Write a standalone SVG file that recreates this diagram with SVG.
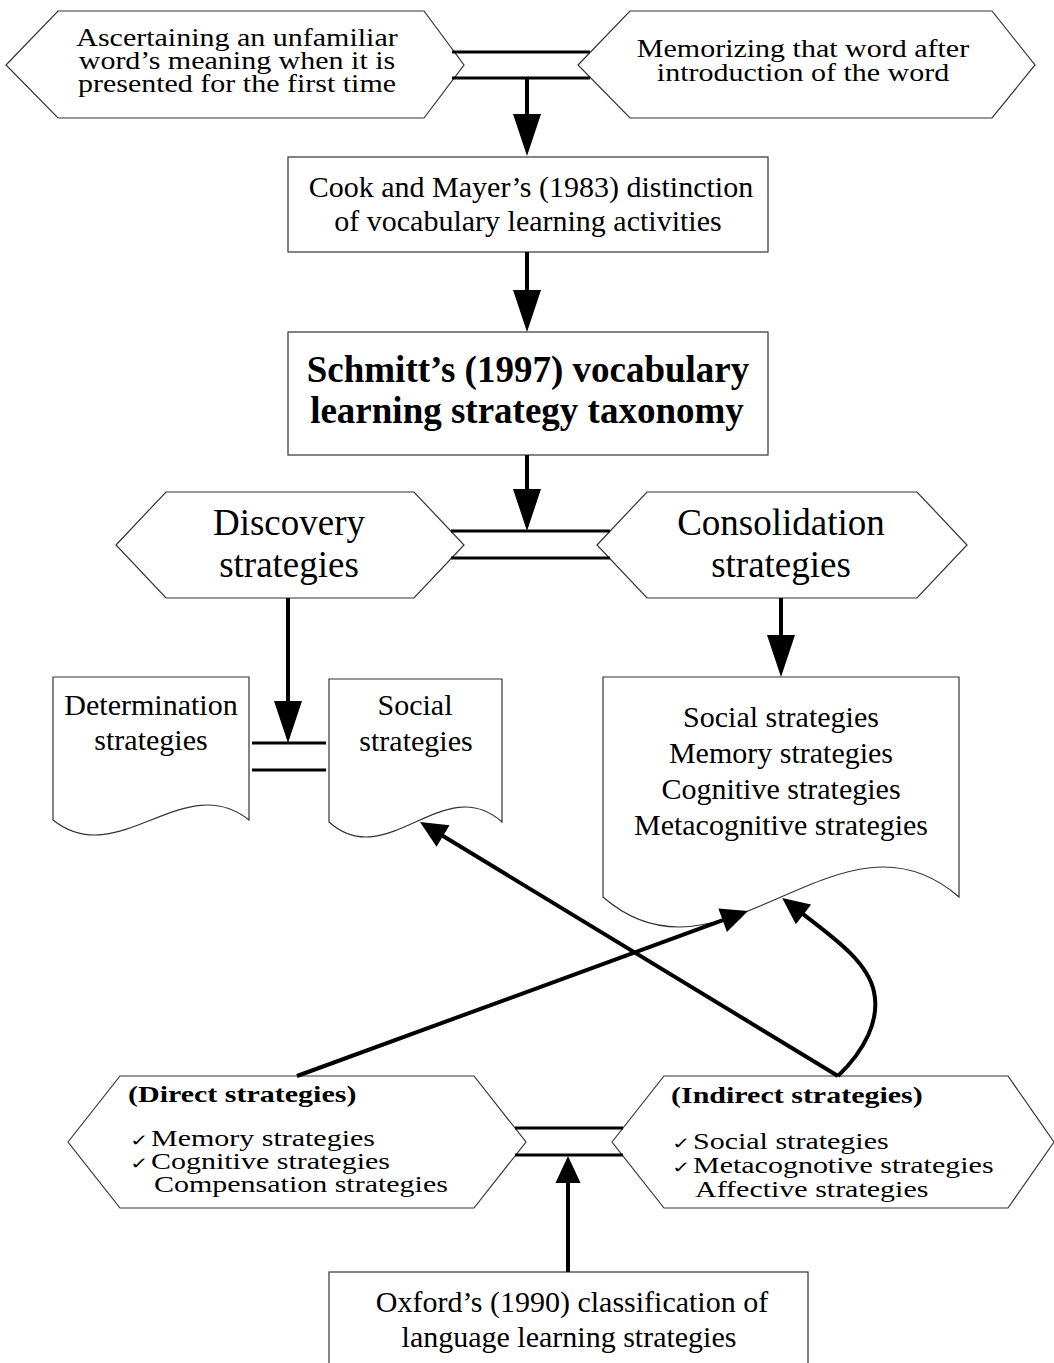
<svg xmlns="http://www.w3.org/2000/svg" width="1054" height="1363" viewBox="0 0 1054 1363">
<style>
.shape{fill:#fff;stroke:#333;stroke-width:1.2}
.t{font-family:"Liberation Serif","Times New Roman",serif;font-size:30px;fill:#000}
.c{text-anchor:middle}
.big{font-size:37px}
.b{font-weight:bold}
.chk{font-family:"DejaVu Sans",sans-serif;font-size:22px}
.conn{stroke:#000;stroke-width:4;fill:none}
.dbl{stroke:#000;stroke-width:3;fill:none}
</style>
<defs>
<marker id="ahL" markerUnits="userSpaceOnUse" markerWidth="42" markerHeight="28" refX="1" refY="14" orient="auto" overflow="visible"><path d="M0,0 L42,14 L0,28 Z" fill="#000"/></marker>
<marker id="ahS" markerUnits="userSpaceOnUse" markerWidth="27" markerHeight="25" refX="1" refY="12.5" orient="auto" overflow="visible"><path d="M0,0 L27,12.5 L0,25 Z" fill="#000"/></marker>
</defs>
<rect width="1054" height="1363" fill="#fff"/>

<g id="node-ascertaining">
<polygon class="shape" points="6,65 58,11 424,11 464,65 424,118 58,118"/>
<text class="t c" x="237" y="0" transform="matrix(1,0,0,0.86,0,46)">Ascertaining an unfamiliar</text>
<text class="t c" x="237" y="0" transform="matrix(1,0,0,0.86,0,69)">word’s meaning when it is</text>
<text class="t c" x="237" y="0" transform="matrix(1,0,0,0.86,0,92)">presented for the first time</text>
</g>

<g id="node-memorizing">
<polygon class="shape" points="578,65 630,11 992,11 1035,65 992,118 630,118"/>
<text class="t c" x="803" y="0" transform="matrix(1,0,0,0.86,0,57)">Memorizing that word after</text>
<text class="t c" x="803" y="0" transform="matrix(1,0,0,0.86,0,81)">introduction of the word</text>
</g>

<g id="node-cook">
<rect class="shape" x="288" y="157" width="480" height="95"/>
<text class="t c" x="531" y="197">Cook and Mayer’s (1983) distinction</text>
<text class="t c" x="528" y="231">of vocabulary learning activities</text>
</g>

<g id="node-schmitt">
<rect class="shape" x="288" y="332" width="480" height="123"/>
<text class="t c b big" x="528" y="382">Schmitt’s (1997) vocabulary</text>
<text class="t c b big" x="527" y="423">learning strategy taxonomy</text>
</g>

<g id="node-discovery">
<polygon class="shape" points="116,545 166,492 414,492 464,545 414,598 166,598"/>
<text class="t c big" x="289" y="535">Discovery</text>
<text class="t c big" x="289" y="577">strategies</text>
</g>

<g id="node-consolidation">
<polygon class="shape" points="597,545 647,492 917,492 967,545 917,598 647,598"/>
<text class="t c big" x="781" y="535">Consolidation</text>
<text class="t c big" x="781" y="577">strategies</text>
</g>

<g id="node-determination">
<path class="shape" d="M53,677 H249 V820 C184,768 118,872 53,820 Z"/>
<text class="t c" x="151" y="715">Determination</text>
<text class="t c" x="151" y="750">strategies</text>
</g>

<g id="node-social">
<path class="shape" d="M329,679 H502 V822 C444,770 387,874 329,822 Z"/>
<text class="t c" x="415" y="715">Social</text>
<text class="t c" x="416" y="751">strategies</text>
</g>

<g id="node-consolidation-list">
<path class="shape" d="M603,677 H959 V897 C840,793 722,1001 603,897 Z"/>
<text class="t c" x="781" y="727">Social strategies</text>
<text class="t c" x="781" y="763">Memory strategies</text>
<text class="t c" x="781" y="799">Cognitive strategies</text>
<text class="t c" x="781" y="835">Metacognitive strategies</text>
</g>

<g id="node-direct">
<polygon class="shape" points="68,1142 120,1076 474,1076 526,1142 474,1208 120,1208"/>
<text class="t b" x="128" y="0" transform="matrix(1,0,0,0.8,0,1102)">(Direct strategies)</text>
<text class="t" y="0" transform="matrix(1,0,0,0.75,0,1146)"><tspan class="chk" x="130">✓</tspan><tspan x="151">Memory strategies</tspan></text>
<text class="t" y="0" transform="matrix(1,0,0,0.75,0,1169)"><tspan class="chk" x="130">✓</tspan><tspan x="151">Cognitive strategies</tspan></text>
<text class="t" x="154" y="0" transform="matrix(1,0,0,0.75,0,1192)">Compensation strategies</text>
</g>

<g id="node-indirect">
<polygon class="shape" points="612,1142 664,1076 1008,1076 1054,1142 1008,1208 664,1208"/>
<text class="t b" x="671" y="0" transform="matrix(1,0,0,0.8,0,1103)">(Indirect strategies)</text>
<text class="t" y="0" transform="matrix(1,0,0,0.75,0,1149)"><tspan class="chk" x="672">✓</tspan><tspan x="693">Social strategies</tspan></text>
<text class="t" y="0" transform="matrix(1,0,0,0.75,0,1173)"><tspan class="chk" x="672">✓</tspan><tspan x="693">Metacognotive strategies</tspan></text>
<text class="t" x="695" y="0" transform="matrix(1,0,0,0.75,0,1197)">Affective strategies</text>
</g>

<g id="node-oxford">
<rect class="shape" x="329" y="1272" width="479" height="110"/>
<text class="t c" x="572" y="1312">Oxford’s (1990) classification of</text>
<text class="t c" x="569" y="1347">language learning strategies</text>
</g>

<g id="connectors">
<line class="dbl" x1="452" y1="52" x2="590" y2="52"/>
<line class="dbl" x1="452" y1="78" x2="590" y2="78"/>
<line class="conn" x1="527" y1="78" x2="527" y2="115" marker-end="url(#ahL)"/>
<line class="conn" x1="527" y1="252" x2="527" y2="291" marker-end="url(#ahL)"/>
<line class="conn" x1="527" y1="455" x2="527" y2="490" marker-end="url(#ahL)"/>
<line class="dbl" x1="451" y1="531" x2="610" y2="531"/>
<line class="dbl" x1="451" y1="558" x2="610" y2="558"/>
<line class="conn" x1="288" y1="598" x2="288" y2="702" marker-end="url(#ahL)"/>
<line class="conn" x1="781" y1="598" x2="781" y2="636" marker-end="url(#ahL)"/>
<line class="dbl" x1="252" y1="743" x2="326" y2="743"/>
<line class="dbl" x1="252" y1="770" x2="326" y2="770"/>
<line class="conn" x1="297" y1="1076" x2="723.6" y2="919.9" marker-end="url(#ahS)"/>
<line class="conn" x1="838" y1="1076" x2="442.2" y2="835.5" marker-end="url(#ahS)"/>
<path class="conn" d="M838,1076 C865,1050 880,1020 874,992 C868,962 834,938 802.7,913.8" marker-end="url(#ahS)"/>
<line class="dbl" x1="515" y1="1128" x2="623" y2="1128"/>
<line class="dbl" x1="515" y1="1155" x2="623" y2="1155"/>
<line class="conn" x1="568" y1="1272" x2="568" y2="1182" marker-end="url(#ahS)"/>
</g>
</svg>
